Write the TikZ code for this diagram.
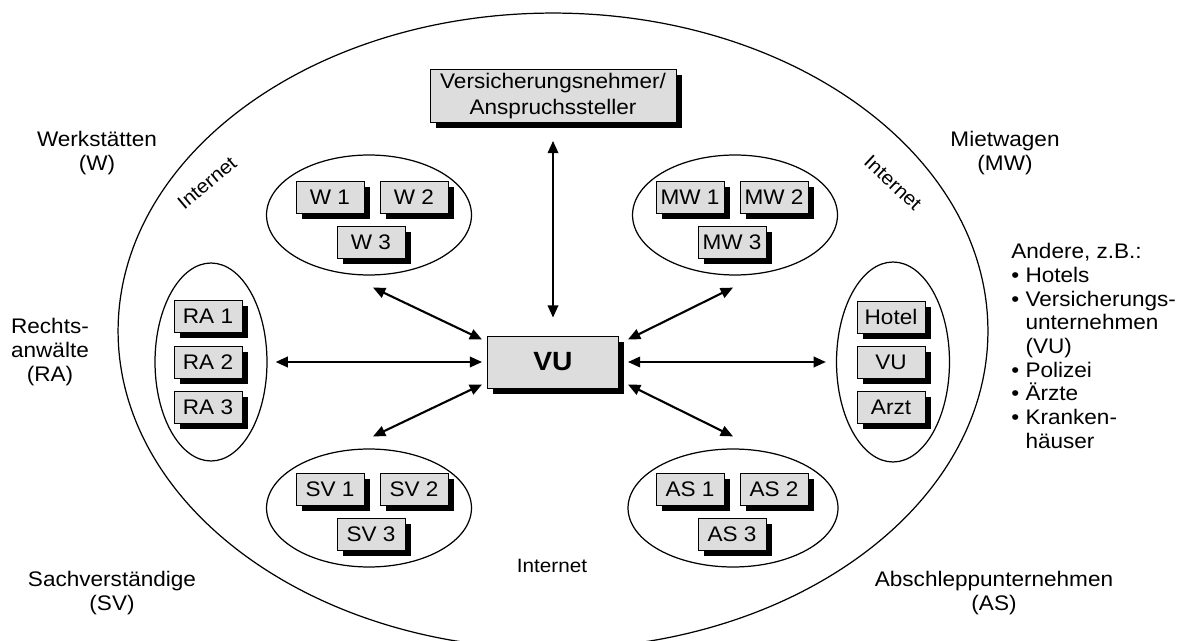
\documentclass[tikz,border=0pt]{standalone}
\usepackage{fontspec}
\setmainfont{Liberation Sans}[FakeStretch=1.07]
\usetikzlibrary{shapes.geometric,shadows,arrows.meta}
\definecolor{boxgray}{RGB}{221,221,221}

\begin{document}
\begin{tikzpicture}[x=0.02cm, y=-0.02cm,
    font=\fontsize{12}{13.5}\selectfont,
    unit/.style={rectangle, draw=black, line width=0.5pt, fill=boxgray, inner sep=0pt,
        drop shadow={shadow xshift=3.4pt, shadow yshift=-3.4pt, fill=black, opacity=1}},
    small/.style={unit, minimum width=1.36cm, minimum height=0.64cm},
    group/.style={ellipse, draw=black, line width=0.7pt, inner sep=0pt},
    link/.style={line width=1.2pt, {Triangle[length=7pt,width=6pt]}-{Triangle[length=7pt,width=6pt]}},
    net/.style={font=\fontsize{11}{13}\selectfont}]
    \useasboundingbox (0,0) rectangle (1182,641);

    % the internet around everything
    \node [ellipse, draw=black, line width=0.7pt, minimum width=17.4cm, minimum height=12.72cm] (inet) at (553,331) {};

    % centre and claimant
    \node [unit, minimum width=4.92cm, minimum height=1.06cm, align=center] (vn) at (553,96) {Versicherungsnehmer/\\[1.5pt]Anspruchssteller};
    \node [unit, minimum width=2.62cm, minimum height=1.04cm, font=\fontsize{15}{18}\selectfont\bfseries] (vu) at (553,362) {VU};

    % Werkstaetten
    \node [group, minimum width=4.1cm, minimum height=2.4cm] (w) at (369,215) {};
    \node [small] (w1) at (330,197) {W 1};
    \node [small] (w2) at (414,197) {W 2};
    \node [small] (w3) at (371,242) {W 3};

    % Mietwagen
    \node [group, minimum width=4.1cm, minimum height=2.4cm] (mw) at (735,215) {};
    \node [small] (mw1) at (690,197) {MW 1};
    \node [small] (mw2) at (774,197) {MW 2};
    \node [small] (mw3) at (732,242) {MW 3};

    % Rechtsanwaelte
    \node [group, minimum width=2.24cm, minimum height=3.96cm] (ra) at (211,362) {};
    \node [small] (ra1) at (208,316) {RA 1};
    \node [small] (ra2) at (208,362) {RA 2};
    \node [small] (ra3) at (208,407) {RA 3};

    % Andere
    \node [group, minimum width=2.26cm, minimum height=4cm] (oth) at (893,362) {};
    \node [small] (hotel) at (891,317) {Hotel};
    \node [small] (vu2) at (891,362) {VU};
    \node [small] (arzt) at (891,407) {Arzt};

    % Sachverstaendige
    \node [group, minimum width=4.1cm, minimum height=2.36cm] (sv) at (369,508) {};
    \node [small] (sv1) at (330,489) {SV 1};
    \node [small] (sv2) at (414,489) {SV 2};
    \node [small] (sv3) at (371,534) {SV 3};

    % Abschleppunternehmen
    \node [group, minimum width=4.2cm, minimum height=2.36cm] (as) at (733,508) {};
    \node [small] (as1) at (690,489) {AS 1};
    \node [small] (as2) at (774,489) {AS 2};
    \node [small] (as3) at (732,534) {AS 3};

    % arrows to and from VU
    \draw [link, shorten <=0.36cm, shorten >=0.36cm] (vn.south) -- (vu.north);
    \draw [link, shorten <=0.16cm, shorten >=0.1cm] (ra.east) -- (vu.west);
    \draw [link, shorten <=0.18cm, shorten >=0.2cm] (vu.east) -- (oth.west);
    \draw [link] ([xshift=-0.1cm,yshift=-0.08cm]vu.north west) -- ([xshift=0.08cm,yshift=-0.24cm]w.south);
    \draw [link] ([xshift=0.18cm,yshift=-0.08cm]vu.north east) -- ([xshift=-0.04cm,yshift=-0.24cm]mw.south);
    \draw [link] ([xshift=-0.1cm,yshift=0.08cm]vu.south west) -- ([xshift=0.08cm,yshift=0.24cm]sv.north);
    \draw [link] ([xshift=0.18cm,yshift=0.08cm]vu.south east) -- ([yshift=0.24cm]as.north);

    % labels outside
    \node [align=center] (werk) at (97,153) {Werkstätten\\(W)};
    \node [align=center] (miet) at (1005,153) {Mietwagen\\(MW)};
    \node [align=center] (rechts) at (50,352) {Rechts-\\anwälte\\(RA)};
    \node [align=center] (sach) at (112,593) {Sachverständige\\(SV)};
    \node [align=center] (absch) at (994,593) {Abschleppunternehmen\\(AS)};
    \node [align=left, anchor=north west, inner sep=0pt] (andere) at (1011,243) {Andere, z.B.:\\
        \textbullet\ Hotels\\
        \textbullet\ Versicherungs-\\
        \phantom{\textbullet\ }unternehmen\\
        \phantom{\textbullet\ }(VU)\\
        \textbullet\ Polizei\\
        \textbullet\ Ärzte\\
        \textbullet\ Kranken-\\
        \phantom{\textbullet\ }häuser};

    % internet labels
    \node [net, rotate=40] (net1) at (207,183) {Internet};
    \node [net, rotate=-43] (net2) at (893,183) {Internet};
    \node [net] (net3) at (552,566) {Internet};
\end{tikzpicture}
\end{document}
